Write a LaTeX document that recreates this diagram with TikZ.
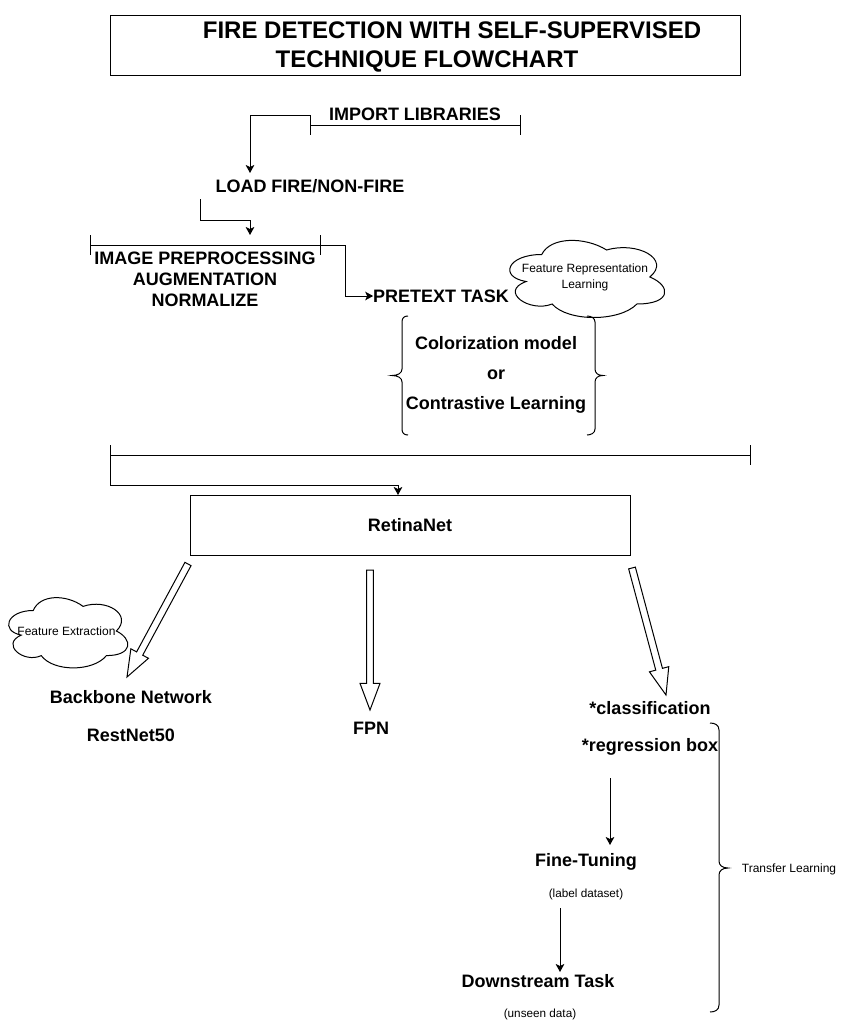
\documentclass[tikz,border=0pt]{standalone}
\usepackage{fontspec}
\setmainfont{Liberation Sans}
\usetikzlibrary{arrows.meta,calc}

% horizontal bar with end ticks spanning a node
\newcommand\barline[1]{%
  \draw (#1.west) -- (#1.east)
        (#1.north west) -- (#1.south west)
        (#1.north east) -- (#1.south east);}

% cloud outline filling a node's box (width, height as lengths)
\newcommand\cloudline[3]{%
  \draw[shift={(#1.north west)}, x=#2, y=-#3]
    (0.25,0.25) .. controls (0.05,0.25) and (0,0.5) .. (0.16,0.55)
    .. controls (0,0.66) and (0.18,0.9) .. (0.31,0.8)
    .. controls (0.4,1) and (0.7,1) .. (0.8,0.8)
    .. controls (1,0.8) and (1,0.6) .. (0.875,0.5)
    .. controls (1,0.3) and (0.8,0.1) .. (0.625,0.2)
    .. controls (0.5,0.05) and (0.3,0.05) .. (0.25,0.25) -- cycle;}

% hollow block arrow from #1 to #2
\newcommand\hollowarrow[2]{%
  \coordinate (#1h) at ($(#2)!20pt!(#1)$);
  \draw[line join=miter]
    ($(#1)!2.6pt!90:(#2)$) -- ($(#1h)!2.6pt!90:(#2)$)
    -- ($(#1h)!7.5pt!90:(#2)$) -- (#2)
    -- ($(#1h)!7.5pt!-90:(#2)$) -- ($(#1h)!2.6pt!-90:(#2)$)
    -- ($(#1)!2.6pt!-90:(#2)$) -- cycle;}

\begin{document}
\begin{tikzpicture}[x=0.75pt, y=-0.75pt, line width=0.75pt,
  every node/.style={inner sep=0pt, outer sep=0pt},
  heading/.style={font=\fontsize{18}{22}\selectfont\bfseries, text height=12.9pt, text depth=0pt},
  lbl/.style={font=\fontsize{13.5}{16}\selectfont\bfseries, text height=9.7pt, text depth=0pt},
  note/.style={font=\fontsize{9}{12}\selectfont},
  note1/.style={note, text height=6.5pt, text depth=0pt},
  hint/.style={font=\fontsize{8.8}{10}\selectfont, text height=6.3pt, text depth=0pt},
  flow/.style={-{Stealth[length=6pt, width=6.5pt, inset=1.5pt]}},
  bracebar/.style={minimum height=15pt},
]
\useasboundingbox (0,0) rectangle (850,1028);

% title
\node[draw, minimum width=472.5pt, minimum height=45pt] (title) at (425,45) {};
\node[heading] (t1) at (452,30) {FIRE DETECTION WITH SELF-SUPERVISED};
\node[heading] (t2) at (427,59) {TECHNIQUE FLOWCHART};

% data preparation
\node[lbl] (imp) at (415,114) {IMPORT LIBRARIES};
\node[bracebar, minimum width=157.5pt] (cb1) at (415,125) {};
\barline{cb1}

\node[lbl, minimum width=165pt, minimum height=19.5pt] (load) at (310,186) {LOAD FIRE/NON-FIRE};
\draw[flow] (cb1.north west) -| ($(load.north west)+(50,0)$);

\node[bracebar, minimum width=172.5pt] (cb2) at (205,245) {};
\barline{cb2}
\draw[flow] (load.south west) -- ++(0,21) -| ($(cb2.north)+(45,0)$);

\node[align=center, font=\fontsize{13.5}{15.6}\selectfont\bfseries] (prep) at (205,279)
  {IMAGE PREPROCESSING\\AUGMENTATION\\NORMALIZE};

% pretext task
\node[lbl] (pretext) at (441,296) {PRETEXT TASK};
\draw[flow] (cb2.east) -- ++(25,0) |- (pretext.west);

\node[note, align=center, minimum width=129.75pt, minimum height=67.5pt] (frl) at (585,277)
  {Feature Representation\\Learning};
\cloudline{frl}{129.75pt}{67.5pt}

\node[align=center, font=\fontsize{13.5}{22.5}\selectfont\bfseries] (alt) at (496,375)
  {Colorization model\\or\\Contrastive Learning};
\draw (408,316) .. controls (404,316) and (402,318) .. (402,322) -- (402,369)
  .. controls (402,373) and (398,375.5) .. (392,375.5)
  .. controls (398,375.5) and (402,378) .. (402,382) -- (402,429)
  .. controls (402,433) and (404,435) .. (408,435);
\draw (587,316) .. controls (591,316) and (595,318) .. (595,322) -- (595,369)
  .. controls (595,373) and (598,375.5) .. (603,375.5)
  .. controls (598,375.5) and (595,378) .. (595,382) -- (595,429)
  .. controls (595,433) and (591,435) .. (587,435);

% detector
\node[bracebar, minimum width=480pt] (cb3) at (430,455) {};
\barline{cb3}
\node[lbl, draw, minimum width=330pt, minimum height=45pt] (retina) at (410,525) {RetinaNet};
\draw[flow] (cb3.west) -- ++(0,30) -| ($(retina.north)+(-12,0)$);

\coordinate (s1) at (188,564); \coordinate (e1) at (127,677);
\coordinate (s2) at (370,570); \coordinate (e2) at (370,710);
\coordinate (s3) at (632,568); \coordinate (e3) at (666,695);
\hollowarrow{s1}{e1}
\hollowarrow{s2}{e2}
\hollowarrow{s3}{e3}

\node[note1, minimum width=99.75pt, minimum height=61.5pt] (fe) at (66.5,631) {Feature Extraction};
\cloudline{fe}{99.75pt}{61.5pt}

\node[lbl] (bb) at (131,697) {Backbone Network};
\node[lbl] (rn) at (131,735) {RestNet50};
\node[lbl] (fpn) at (371,728) {FPN};
\node[lbl] (cls) at (650,708) {*classification};
\node[lbl] (reg) at (650,745) {*regression box};

% transfer learning
\node[lbl, minimum height=22.5pt] (ft) at (586,860) {Fine-Tuning};
\node[hint] (lab) at (586,893) {(label dataset)};
\node[lbl, minimum height=13.5pt] (ds) at (538,981) {Downstream Task};
\node[hint] (uns) at (540,1013) {(unseen data)};
\coordinate (a1) at (610,778);
\coordinate (a2) at (560,908);
\draw[flow] (a1) -- (a1 |- ft.north);
\draw[flow] (a2) -- (a2 |- ds.north);

\draw (710,723) .. controls (715,723) and (719,725) .. (719,730) -- (719,861)
  .. controls (719,865) and (722,868) .. (728,868)
  .. controls (722,868) and (719,871) .. (719,875) -- (719,1005)
  .. controls (719,1010) and (715,1012) .. (710,1012);
\node[note1] (tl) at (789,868) {Transfer Learning};
\end{tikzpicture}
\end{document}
